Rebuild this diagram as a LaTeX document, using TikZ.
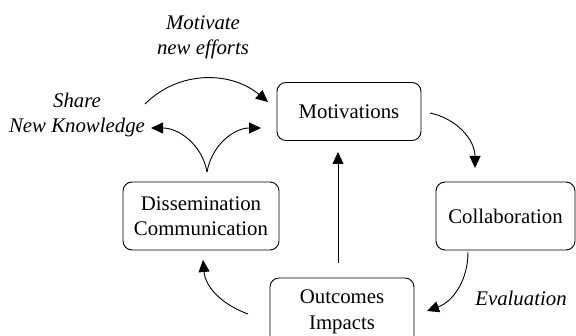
\documentclass[tikz,border=0pt]{standalone}
\usepackage{fontspec}
\setmainfont{Liberation Serif}
\usetikzlibrary{arrows.meta}
\begin{document}
\begin{tikzpicture}[x=1pt,y=-1pt,
  box/.style={draw,line width=0.9pt,rounded corners=9pt,align=center,inner sep=0pt,
    font=\fontsize{20.8}{25.5}\selectfont},
  lbl/.style={align=center,font=\fontsize{20.8}{25}\selectfont\itshape},
  conn/.style={line width=0.9pt,-{Triangle[length=12pt,width=11pt]}}]
\useasboundingbox (0,0) rectangle (576,336);
\clip (0,0) rectangle (576,336);
\node[box,minimum width=144pt,minimum height=58pt] (mot) at (349,111.5) {Motivations};
\node[box,minimum width=139pt,minimum height=68pt] (col) at (505.5,216) {Collaboration};
\node[box,minimum width=144pt,minimum height=68pt] (out) at (342,312) {Outcomes\\Impacts};
\node[box,minimum width=156pt,minimum height=68pt] (dis) at (201,216) {Dissemination\\Communication};
\node[lbl] (motlbl) at (203,37) {Motivate\\new efforts};
\node[lbl] (sharelbl) at (77,115) {Share\\New Knowledge};
\node[lbl] (evallbl) at (521,298) {Evaluation};
\coordinate (a1) at (145,104);
\coordinate (a2) at (268,102);
\coordinate (b0) at (207,172);
\coordinate (b1) at (151,128);
\coordinate (b2) at (261,128);
\coordinate (c1) at (430,113);
\coordinate (c2) at (475,168);
\coordinate (d1) at (468,252);
\coordinate (d2) at (427,311);
\coordinate (e1) at (248,314);
\coordinate (e2) at (203,260);
\coordinate (f1) at (338,263);
\coordinate (f2) at (338,152);
\draw[conn] (a1) to[out=45,in=140] (a2);
\draw[conn] (b0) to[out=100,in=0] (b1);
\draw[conn] (b0) to[out=80,in=180] (b2);
\draw[conn] (c1) to[out=-12,in=90] (c2);
\draw[conn] (d1) to[out=-90,in=20] (d2);
\draw[conn] (e1) to[out=160,in=-85] (e2);
\draw[conn] (f1) -- (f2);
\end{tikzpicture}
\end{document}
